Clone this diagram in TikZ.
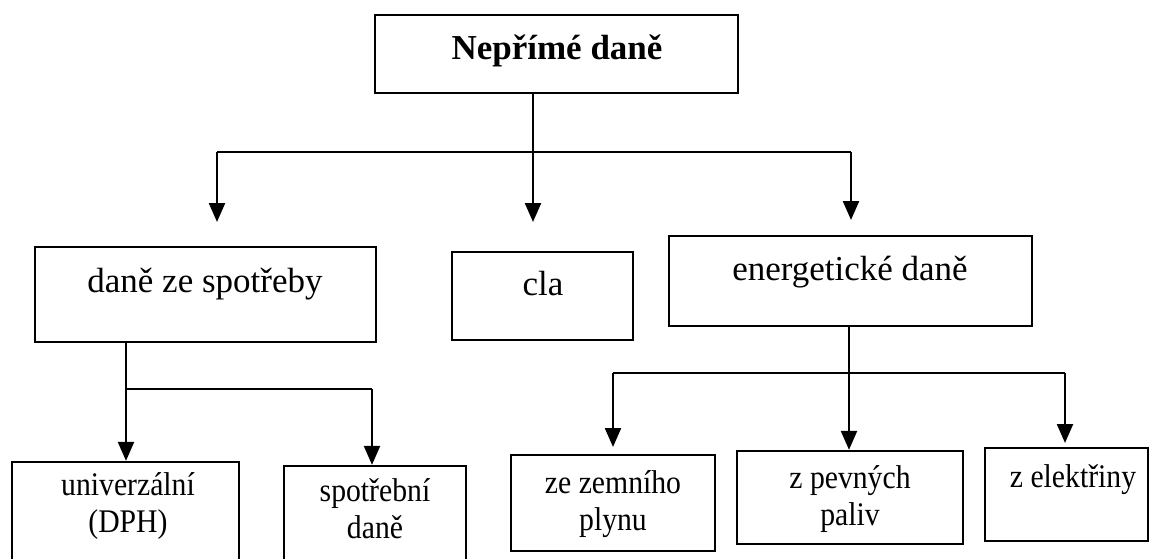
\documentclass[tikz,border=0pt]{standalone}
\usepackage{fontspec}
\setmainfont{Liberation Serif}
\newfontfamily\condfont[FakeStretch=0.9]{Liberation Serif}
\usetikzlibrary{arrows.meta,fit}
\begin{document}
\begin{tikzpicture}[x=1pt,y=-1pt,
  box/.style={draw, line width=2.3pt, inner sep=0pt},
  big/.style={font=\fontsize{35}{40}\selectfont, inner sep=0pt, anchor=base},
  sm/.style={font=\condfont\fontsize{33}{37}\selectfont, inner sep=0pt, align=center, anchor=base},
  ln/.style={line width=2.3pt},
  arr/.style={line width=2.3pt, -{Triangle[length=19pt,width=16pt]}}]
\useasboundingbox (0,0) rectangle (1157,559);
\fill[white] (0,0) rectangle (1157,559);
\begin{scope}
\clip (0,0) rectangle (1157,559);
% boxes
\node[box, fit={(375,15)(738,93)}] (top) {};
\node[box, fit={(35,247)(376,342)}] (dzs) {};
\node[box, fit={(452,252)(633,340)}] (cla) {};
\node[box, fit={(669,236)(1032,326)}] (ene) {};
\node[box, fit={(12,462)(239,590)}] (univ) {};
\node[box, fit={(284,466)(466,590)}] (spot) {};
\node[box, fit={(511,455)(715,551)}] (zem) {};
\node[box, fit={(737,451)(963,544)}] (pev) {};
\node[box, fit={(985,448)(1148,541)}] (ele) {};
% texts
\node[big, font=\fontsize{35}{40}\selectfont\bfseries] (ttop) at (557,60) {Nepřímé daně};
\node[big] (tdzs) at (205,292) {daně ze spotřeby};
\node[big] (tcla) at (543,295) {cla};
\node[big] (tene) at (850,280) {energetické daně};
\node[sm] (tuniv) at (128,532) {univerzální\\(DPH)};
\node[sm] (tspot) at (375,538) {spotřební\\daně};
\node[sm] (tzem) at (613,530) {ze zemního\\plynu};
\node[sm] (tpev) at (850,525) {z pevných\\paliv};
\node[sm] (tele) at (1073,487) {z elektřiny};
% coordinates
\coordinate (j1) at (533,152);
\coordinate (j1l) at (217,152);
\coordinate (j1r) at (851,152);
\coordinate (e1) at (217,222);
\coordinate (e2) at (533,222);
\coordinate (e3) at (851,220);
\coordinate (j2) at (126,389);
\coordinate (j2r) at (372,389);
\coordinate (j3l) at (613,373);
\coordinate (j3r) at (1065,373);
\coordinate (e4) at (613,447);
\coordinate (e5) at (1065,443);
% connectors level 1
\draw[ln] (top.south -| j1) -- (j1);
\draw[ln] (j1l) -- (j1r);
\draw[arr] (j1l) -- (e1);
\draw[arr] (j1) -- (e2);
\draw[arr] (j1r) -- (e3);
% spotreba
\draw[ln] (dzs.south -| j2) -- (j2) -- (j2r);
\draw[arr] (j2) -- (univ.north -| j2);
\draw[arr] (j2r) -- (spot.north -| j2r);
% energeticke
\draw[ln] (j3l) -- (j3r);
\draw[arr] (ene.south -| 849,0) -- (pev.north -| 849,0);
\draw[arr] (j3l) -- (e4);
\draw[arr] (j3r) -- (e5);
\end{scope}
\end{tikzpicture}
\end{document}
